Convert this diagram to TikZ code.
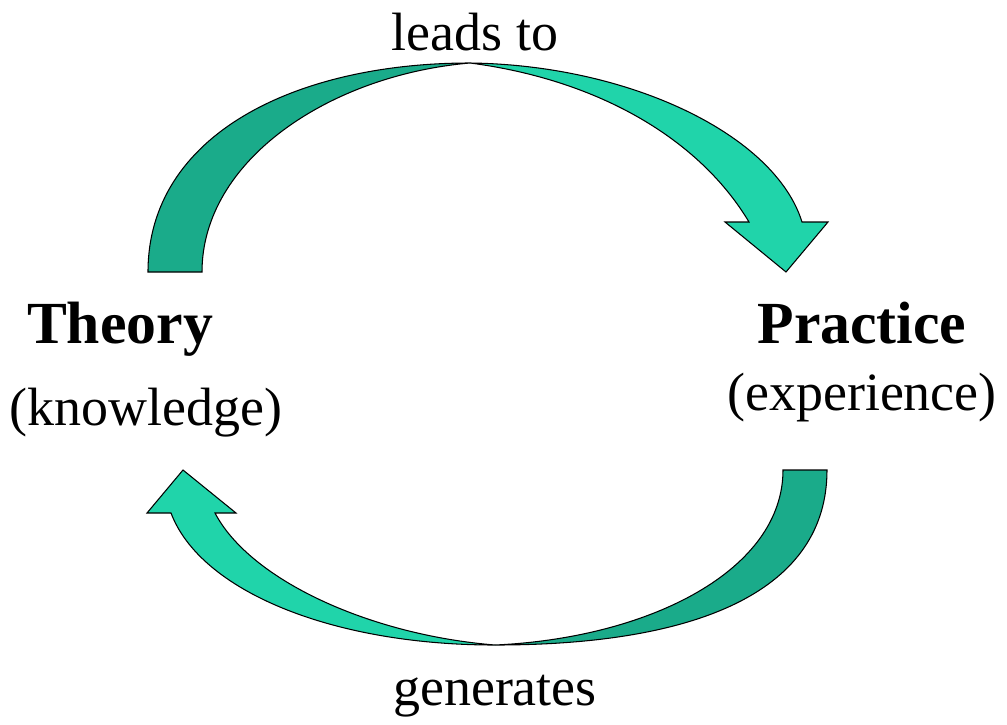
\documentclass[tikz,border=0pt]{standalone}
\usepackage{fontspec}
\setmainfont{Liberation Serif}
\definecolor{arrowlight}{RGB}{32,212,170}
\definecolor{arrowdark}{RGB}{26,171,138}
\begin{document}
\begin{tikzpicture}[x=0.02cm, y=-0.02cm,
  plaintext/.style={inner sep=0pt, anchor=base, font=\fontsize{30.7}{36}\selectfont},
  headtext/.style={inner sep=0pt, anchor=base, font=\fontsize{34}{40}\selectfont\bfseries},
  back/.style={fill=arrowdark, draw=black, line width=0.6pt},
  front/.style={fill=arrowlight, draw=black, line width=0.6pt}]
\useasboundingbox (0,0) rectangle (1007,724);

% upper arrow, theory to practice
\path[back] (148,272) .. controls (148,135) and (295,63) .. (470,63)
  .. controls (330,75) and (202,160) .. (202,272) -- cycle;
\path[front] (470,63) .. controls (630,65) and (775,135) .. (802,222)
  -- (828,222) -- (786,272) -- (725,222) -- (749,222)
  .. controls (700,140) and (600,80) .. (470,63) -- cycle;

% lower arrow, practice to theory
\path[back] (827,470) .. controls (827,590) and (700,645) .. (495,645)
  .. controls (650,638) and (783,570) .. (783,470) -- cycle;
\path[front] (495,645) .. controls (330,645) and (200,590) .. (171,513)
  -- (147,513) -- (183,470) -- (236,513) -- (215,513)
  .. controls (250,580) and (370,635) .. (495,645) -- cycle;

\node[plaintext] (leads) at (475,50) {leads to};
\node[headtext] (theory) at (120,343) {Theory};
\node[plaintext] (knowledge) at (146,425) {(knowledge)};
\node[headtext] (practice) at (862,343) {Practice};
\node[plaintext] (experience) at (862,410) {(experience)};
\node[plaintext] (generates) at (495,705) {generates};
\end{tikzpicture}
\end{document}
